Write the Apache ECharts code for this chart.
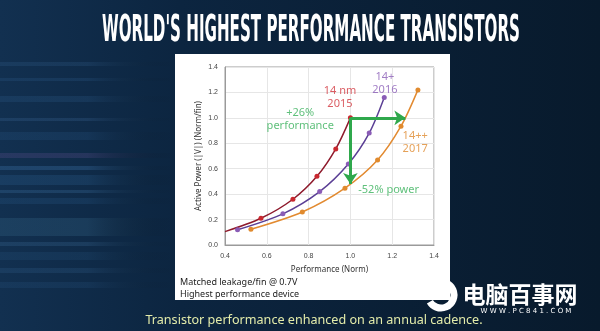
<!DOCTYPE html>
<html>
<head>
<meta charset="utf-8">
<script src="https://cdn.jsdelivr.net/npm/echarts@6/dist/echarts.min.js"></script>
<style>
html,body{margin:0;padding:0;background:#0b2034;}
#c{width:600px;height:331px;}
</style>
</head>
<body>
<div id="c"></div>
<script>
// ---- data ----
var title = "WORLD'S HIGHEST PERFORMANCE TRANSISTORS";
var footer = "Transistor performance enhanced on an annual cadence.";
var notes = ["Matched leakage/fin @ 0.7V", "Highest performance device"];
var xAxisName = "Performance (Norm)";
var yAxisName = "Active Power (|V|) (Norm/fin)";

var s2015Name = "14 nm 2015";
var s2015Start = [0.40, 0.105];
var s2015 = [[0.572, 0.21], [0.725, 0.36], [0.84, 0.54], [0.93, 0.756], [1.0, 1.0]];

var s2016Name = "14+ 2016";
var s2016 = [[0.46, 0.12], [0.677, 0.245], [0.853, 0.42], [0.99, 0.637], [1.09, 0.88], [1.162, 1.16]];

var s2017Name = "14++ 2017";
var s2017 = [[0.524, 0.124], [0.77, 0.26], [0.974, 0.447], [1.13, 0.668], [1.242, 0.934], [1.323, 1.22]];

var perfArrow = [[1.0, 1.0], [1.263, 1.0]];
var powerArrow = [[1.0, 1.0], [1.0, 0.48]];

var annotations = [
  {text: "14 nm\n2015", x: 0.95, y: 1.165, color: "#d2343c"},
  {text: "14+\n2016", x: 1.165, y: 1.27, color: "#8a5cb6"},
  {text: "14++\n2017", x: 1.31, y: 0.805, color: "#df8a2e"},
  {text: "+26%\nperformance", x: 0.76, y: 0.985, color: "#37b05a"},
  {text: "-52% power", x: 1.183, y: 0.435, color: "#37b05a"}
];

// ---- chart ----
var chart = echarts.init(document.getElementById('c'), null, {renderer: 'canvas'});

function measure(txt, font) {
  var cv = document.createElement('canvas').getContext('2d');
  cv.font = font;
  return cv.measureText(txt).width;
}
var titleFont = "bold 37px 'DejaVu Sans Condensed', 'DejaVu Sans'";
var titleScale = 418 / measure(title, titleFont);

var streaks = [
  [62, 4, '#3a6a9a', 0.2], [78, 3, '#2d5c8c', 0.25], [96, 6, '#35689a', 0.2],
  [118, 3, '#4a7ab0', 0.2], [132, 8, '#2a5a8a', 0.22], [153, 5, '#5a4c8a', 0.3],
  [166, 4, '#3f78b0', 0.3], [175, 10, '#2e6496', 0.25], [190, 3, '#4a86bc', 0.22],
  [198, 6, '#2b5f90', 0.22], [218, 18, '#3b6f90', 0.25], [242, 4, '#4a80b0', 0.2],
  [252, 8, '#2a5a86', 0.2], [268, 5, '#3a6c9c', 0.2], [282, 6, '#2e5e8e', 0.18]
];
var bgGraphics = streaks.map(function (s) {
  return {
    type: 'rect', z: -10, silent: true,
    shape: {x: 0, y: s[0], width: 175, height: s[1]},
    style: {
      opacity: s[3],
      fill: {type: 'linear', x: 0, y: 0, x2: 1, y2: 0,
        colorStops: [{offset: 0, color: s[2]}, {offset: 0.5, color: s[2]}, {offset: 1, color: 'rgba(0,0,0,0)'}]}
    }
  };
});

var option = {
  backgroundColor: {
    type: 'linear', x: 0, y: 0, x2: 1, y2: 0,
    colorStops: [{offset: 0, color: '#123050'}, {offset: 0.3, color: '#0c2540'}, {offset: 1, color: '#081a2c'}]
  },
  animation: false,
  graphic: bgGraphics.concat([
    {type: 'rect', z: -5, silent: true, shape: {x: 175, y: 54, width: 275, height: 246}, style: {fill: '#ffffff'}},
    {type: 'arc', z: -4, silent: true, shape: {cx: 441, cy: 295, r: 13, startAngle: -1.2, endAngle: 2.6}, style: {stroke: '#ffffff', lineWidth: 7, fill: 'none'}},
    {type: 'text', x: 311, y: 31, scaleX: titleScale, style: {text: title, x: 0, y: 0, font: titleFont, fill: '#ffffff', align: 'center', verticalAlign: 'middle'}},
    {type: 'text', style: {text: notes[0], x: 180, y: 282, fill: '#222222', font: "9px 'Noto Sans'", verticalAlign: 'middle'}},
    {type: 'text', style: {text: notes[1], x: 180, y: 294, fill: '#222222', font: "9px 'Noto Sans'", verticalAlign: 'middle'}},
    {type: 'text', style: {text: footer, x: 314, y: 320, fill: '#e4ecaa', font: "12.6px 'Noto Sans'", align: 'center', verticalAlign: 'middle'}},
    {type: 'text', style: {text: '电脑百事网', x: 520, y: 294, fill: '#ffffff', font: "bold 23px 'Noto Sans CJK SC'", align: 'center', verticalAlign: 'middle'}},
    {type: 'text', style: {text: 'W W W . P C 8 4 1 . C O M', x: 526, y: 311, fill: '#ffffff', font: "7px 'DejaVu Sans'", align: 'center', verticalAlign: 'middle'}}
  ]),
  grid: {left: 225, top: 67, width: 209, height: 178, show: true, borderColor: '#9a9a9a', borderWidth: 1, backgroundColor: '#ffffff'},
  xAxis: {
    type: 'value', min: 0.4, max: 1.4, interval: 0.2,
    name: xAxisName, nameLocation: 'middle', nameGap: 21,
    nameTextStyle: {fontSize: 8, color: '#333', fontFamily: 'Noto Sans'},
    axisLine: {show: true, lineStyle: {color: '#9a9a9a'}},
    axisTick: {show: false},
    axisLabel: {fontSize: 7, color: '#444', margin: 8, formatter: function (v) { return v.toFixed(1); }},
    splitLine: {show: true, lineStyle: {color: '#e6e6e6'}}
  },
  yAxis: {
    type: 'value', min: 0, max: 1.4, interval: 0.2,
    name: yAxisName, nameLocation: 'middle', nameGap: 22, nameRotate: 90,
    nameTextStyle: {fontSize: 8, color: '#333', fontFamily: 'Noto Sans'},
    axisLine: {show: true, lineStyle: {color: '#9a9a9a'}},
    axisTick: {show: false},
    axisLabel: {fontSize: 7, color: '#444', margin: 7, formatter: function (v) { return v.toFixed(1); }},
    splitLine: {show: true, lineStyle: {color: '#e6e6e6'}}
  },
  series: [
    {
      name: s2015Name, type: 'line', smooth: 0.3,
      data: [{value: s2015Start, symbol: 'none'}].concat(s2015),
      symbol: 'circle', symbolSize: 5,
      lineStyle: {color: '#8e1a2c', width: 1.5},
      itemStyle: {color: '#c8282f'}
    },
    {
      name: s2016Name, type: 'line', smooth: 0.3, data: s2016,
      symbol: 'circle', symbolSize: 5,
      lineStyle: {color: '#5b3f95', width: 1.5},
      itemStyle: {color: '#8a5cb6'}
    },
    {
      name: s2017Name, type: 'line', smooth: 0.3, data: s2017,
      symbol: 'circle', symbolSize: 5,
      lineStyle: {color: '#e28a30', width: 1.5},
      itemStyle: {color: '#e08a2e'}
    },
    {
      name: 'arrows', type: 'line', data: [], z: 5,
      markLine: {
        silent: true, symbol: ['none', 'arrow'], symbolSize: [11, 11],
        label: {show: false},
        lineStyle: {color: '#2fa84c', width: 3, type: 'solid'},
        data: [
          [{coord: perfArrow[0]}, {coord: perfArrow[1]}],
          [{coord: powerArrow[0]}, {coord: powerArrow[1]}]
        ]
      }
    },
    {
      name: 'annotations', type: 'scatter', symbolSize: 1, z: 6,
      itemStyle: {color: 'rgba(0,0,0,0)'},
      data: annotations.map(function (a) {
        return {value: [a.x, a.y], name: a.text,
          label: {show: true, position: 'inside', formatter: a.text, color: a.color,
            fontSize: 11, lineHeight: 13, fontFamily: 'Noto Sans', align: 'center', verticalAlign: 'middle'}};
      })
    }
  ]
};
chart.setOption(option);
</script>
</body>
</html>
